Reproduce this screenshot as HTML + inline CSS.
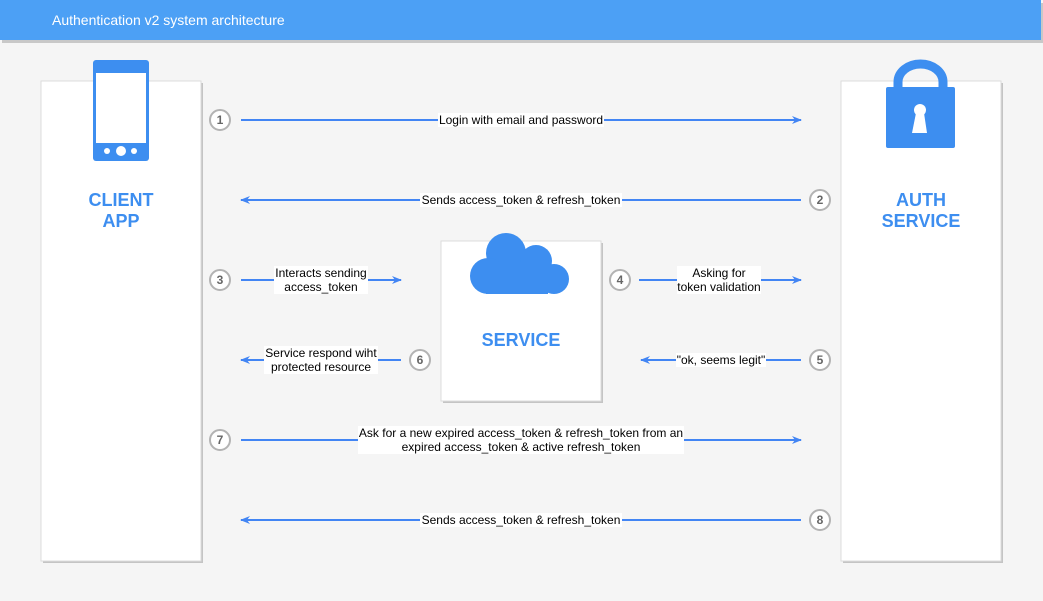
<!DOCTYPE html>
<html><head><meta charset="utf-8"><style>
html,body{margin:0;padding:0;width:1043px;height:601px;overflow:hidden;background:#f5f5f5}
svg{display:block}
text{font-family:"Liberation Sans",Arial,sans-serif}
</style></head><body>
<svg width="1043" height="601" viewBox="0 0 1043 601" xmlns="http://www.w3.org/2000/svg">
<defs>
<marker id="a" markerWidth="10" markerHeight="8" refX="9" refY="4" orient="auto" markerUnits="userSpaceOnUse">
<path d="M0,0 L10,4 L0,8 L3,4 Z" fill="#4285f4"/></marker>
</defs>
<rect x="0" y="0" width="1043" height="601" fill="#f5f5f5"/>
<rect x="2" y="3" width="1043" height="40" fill="#c8c8c8"/>
<rect x="0" y="0" width="1041" height="40" fill="#4ca0f5"/>
<text x="52" y="25" font-size="14" fill="#fff">Authentication v2 system architecture</text>
<g>
<rect x="43" y="83" width="160" height="480" fill="#c4c4c4"/>
<rect x="41" y="81" width="160" height="480" fill="#fff" stroke="#dcdcdc"/>
<rect x="843" y="83" width="160" height="480" fill="#c4c4c4"/>
<rect x="841" y="81" width="160" height="480" fill="#fff" stroke="#dcdcdc"/>
<rect x="443" y="243" width="160" height="160" fill="#c4c4c4"/>
<rect x="441" y="241" width="160" height="160" fill="#fff" stroke="#dcdcdc"/>
</g>
<rect x="93" y="60" width="56" height="101" rx="3" fill="#3d8ef0"/>
<rect x="96" y="73" width="50" height="70" fill="#fff"/>
<circle cx="107" cy="151" r="3" fill="#fff"/><circle cx="121" cy="151" r="5" fill="#fff"/><circle cx="134" cy="151" r="3" fill="#fff"/>
<path d="M898,90 V82 a22.5,18 0 0 1 45,0 V90" fill="none" stroke="#3d8ef0" stroke-width="9"/>
<rect x="886" y="87" width="69" height="61" rx="2" fill="#3d8ef0"/>
<circle cx="920" cy="110" r="6" fill="#fff"/>
<path d="M916,113 L924,113 L927,133 L912,133 Z" fill="#fff"/>
<g fill="#3d8ef0">
<circle cx="506" cy="253" r="20"/>
<circle cx="536" cy="261" r="16"/>
<circle cx="488" cy="276" r="18"/>
<circle cx="554" cy="279" r="15"/>
<rect x="486" y="262" width="62" height="32"/>
</g>
<g font-weight="bold" font-size="18" fill="#3d8ef0" text-anchor="middle">
<text x="121" y="206">CLIENT</text><text x="121" y="227">APP</text>
<text x="921" y="206">AUTH</text><text x="921" y="227">SERVICE</text>
<text x="521" y="346">SERVICE</text>
</g>
<g stroke="#4285f4" stroke-width="2" fill="none" marker-end="url(#a)">
<line x1="241" y1="120" x2="801" y2="120"/>
<line x1="801" y1="200" x2="241" y2="200"/>
<line x1="241" y1="280" x2="401" y2="280"/>
<line x1="639" y1="280" x2="801" y2="280"/>
<line x1="801" y1="360" x2="641" y2="360"/>
<line x1="401" y1="360" x2="241" y2="360"/>
<line x1="241" y1="440" x2="801" y2="440"/>
<line x1="801" y1="520" x2="241" y2="520"/>
</g>
<g fill="#fff">
<rect x="438" y="113" width="166" height="14"/>
<rect x="420" y="193" width="202" height="14"/>
<rect x="274" y="266" width="94" height="28"/>
<rect x="677" y="266" width="84" height="28"/>
<rect x="676" y="353" width="90" height="14"/>
<rect x="264" y="346" width="114" height="28"/>
<rect x="358" y="426" width="326" height="28"/>
<rect x="420" y="513" width="202" height="14"/>
</g>
<g font-size="12" fill="#000" text-anchor="middle">
<text x="521" y="124">Login with email and password</text>
<text x="521" y="204">Sends access_token &amp; refresh_token</text>
<text x="321" y="277">Interacts sending</text><text x="321" y="291">access_token</text>
<text x="719" y="277">Asking for</text><text x="719" y="291">token validation</text>
<text x="721" y="364">"ok, seems legit"</text>
<text x="321" y="357">Service respond wiht</text><text x="321" y="371">protected resource</text>
<text x="521" y="437">Ask for a new expired access_token &amp; refresh_token from an</text>
<text x="521" y="451">expired access_token &amp; active refresh_token</text>
<text x="521" y="524">Sends access_token &amp; refresh_token</text>
</g>
<g stroke="#b3b3b3" stroke-width="2" fill="#fff">
<circle cx="220" cy="120" r="10"/><circle cx="820" cy="200" r="10"/>
<circle cx="220" cy="280" r="10"/><circle cx="620" cy="280" r="10"/>
<circle cx="820" cy="360" r="10"/><circle cx="420" cy="360" r="10"/>
<circle cx="220" cy="440" r="10"/><circle cx="820" cy="520" r="10"/>
</g>
<g font-size="12" font-weight="bold" fill="#666" text-anchor="middle">
<text x="220" y="124">1</text><text x="820" y="204">2</text>
<text x="220" y="284">3</text><text x="620" y="284">4</text>
<text x="820" y="364">5</text><text x="420" y="364">6</text>
<text x="220" y="444">7</text><text x="820" y="524">8</text>
</g>
</svg>
</body></html>
